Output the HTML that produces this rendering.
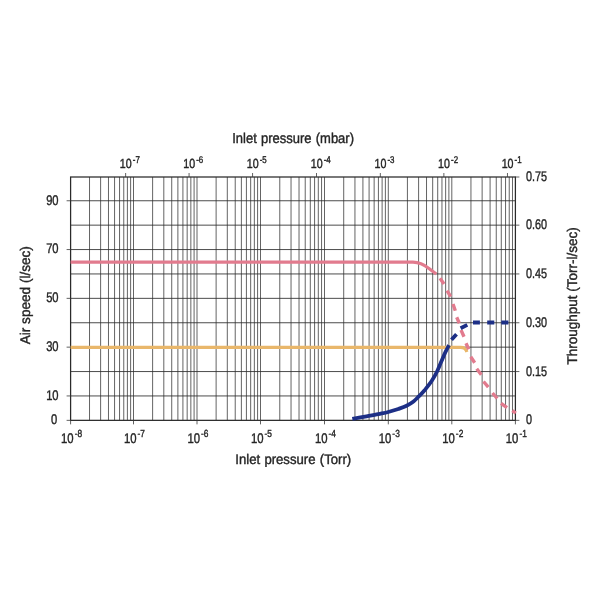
<!DOCTYPE html><html><head><meta charset="utf-8"><title>Pumping speed chart</title><style>html,body{margin:0;padding:0;background:#fff}svg{display:block}</style></head><body><svg width="600" height="600" viewBox="0 0 600 600">
<rect width="600" height="600" fill="#fff"/>
<path d="M89.53 177.0V420.35M100.61 177.0V420.35M108.47 177.0V420.35M114.57 177.0V420.35M119.55 177.0V420.35M123.76 177.0V420.35M127.40 177.0V420.35M130.62 177.0V420.35M152.62 177.0V420.35M163.80 177.0V420.35M171.73 177.0V420.35M177.88 177.0V420.35M182.91 177.0V420.35M187.16 177.0V420.35M190.85 177.0V420.35M194.09 177.0V420.35M133.50 177.0V420.35M216.12 177.0V420.35M227.30 177.0V420.35M235.23 177.0V420.35M241.38 177.0V420.35M246.41 177.0V420.35M250.66 177.0V420.35M254.35 177.0V420.35M257.59 177.0V420.35M197.00 177.0V420.35M279.77 177.0V420.35M291.04 177.0V420.35M299.03 177.0V420.35M305.23 177.0V420.35M310.30 177.0V420.35M314.59 177.0V420.35M318.30 177.0V420.35M321.57 177.0V420.35M260.50 177.0V420.35M343.71 177.0V420.35M354.94 177.0V420.35M362.91 177.0V420.35M369.09 177.0V420.35M374.15 177.0V420.35M378.42 177.0V420.35M382.12 177.0V420.35M385.38 177.0V420.35M324.50 177.0V420.35M407.42 177.0V420.35M418.60 177.0V420.35M426.53 177.0V420.35M432.68 177.0V420.35M437.71 177.0V420.35M441.96 177.0V420.35M445.65 177.0V420.35M448.89 177.0V420.35M388.30 177.0V420.35M470.95 177.0V420.35M482.14 177.0V420.35M490.09 177.0V420.35M496.25 177.0V420.35M501.29 177.0V420.35M505.55 177.0V420.35M509.24 177.0V420.35M512.49 177.0V420.35M451.80 177.0V420.35" stroke="#303030" stroke-width="0.75" fill="none"/>
<path d="M70.6 395.95H515.4M70.6 371.55H515.4M70.6 347.15H515.4M70.6 322.75H515.4M70.6 298.35H515.4M70.6 273.95H515.4M70.6 249.55H515.4M70.6 225.15H515.4M70.6 200.75H515.4" stroke="#2c2c2c" stroke-width="0.85" fill="none"/>
<rect x="70.6" y="177.0" width="444.79999999999995" height="243.35000000000002" fill="none" stroke="#2a2a2a" stroke-width="1.25"/>
<path d="M66.6 420.35H70.6M66.6 395.95H70.6M66.6 347.15H70.6M66.6 298.35H70.6M66.6 249.55H70.6M66.6 200.75H70.6M515.4 420.35H519.4M515.4 371.55H519.4M515.4 322.75H519.4M515.4 273.95H519.4M515.4 225.15H519.4M515.4 177.00H519.4M70.6 420.35V424.35M133.5 420.35V424.35M197.0 420.35V424.35M260.5 420.35V424.35M324.5 420.35V424.35M388.3 420.35V424.35M451.8 420.35V424.35M515.4 420.35V424.35M125.64 177.0V173.0M189.07 177.0V173.0M252.57 177.0V173.0M316.51 177.0V173.0M380.33 177.0V173.0M443.87 177.0V173.0M507.46 177.0V173.0" stroke="#3a3a3a" stroke-width="0.8" fill="none"/>
<path d="M70.6 347.4H460.5C464 347.4 466 348.6 466.9 352" stroke="#e9b76b" stroke-width="3.1" fill="none"/>
<path d="M70.6 262.2H413C419 262.2 424 264.6 429.3 268.7L436.3 274" stroke="#e27b8e" stroke-width="3.2" fill="none"/>
<path d="M440 278.3L444 284M447 290.7L450.7 296.7M453 304L455.3 310.7M456.7 317.3L459.3 323.3M461 330L464 336.7M466 343.3L468.7 349.3M470.7 356.7L474.7 362.7M476.7 368.7L481.3 374.7M483.5 381.5L488.3 387.2M492.5 393L497.2 398.5M501 403.3L507 407.7M512.3 410.6L515.8 413.2" stroke="#e27b8e" stroke-width="3.4" fill="none"/>
<path d="M352.3 418.9C354.4 418.5 360.7 417.4 365 416.6C369.3 415.8 374.4 414.9 378.3 414.1C382.2 413.3 385.0 412.9 388.3 412.0C391.6 411.1 395.2 410.1 398.3 409.0C401.4 407.9 404.1 407.0 406.6 405.7C409.1 404.4 411.4 403.0 413.5 401.4C415.6 399.8 417.1 398.0 419.0 396.2C420.9 394.4 422.5 392.9 424.6 390.3C426.7 387.7 429.7 384.0 431.8 380.8C433.9 377.6 435.8 374.1 437.3 371.0C438.8 367.9 439.7 365.3 441.0 362.3C442.3 359.3 443.7 355.9 445 353.0C446.3 350.1 448.3 346.5 449.0 345.2" stroke="#1d2f86" stroke-width="3.8" fill="none"/>
<path d="M451.5 339.7L456.5 334.2M460.6 328.3L467.3 324.9M473.0 322.5L479.9 322.5M487.2 322.5L494.3 322.5M501.3 322.5L508.4 322.5" stroke="#1d2f86" stroke-width="3.8" fill="none"/>
<g font-family="'Liberation Sans', sans-serif" opacity="0.99" text-rendering="geometricPrecision" stroke="#232323" stroke-width="0.4">
<text transform="translate(57.2 424.25) scale(0.8 1)" text-anchor="end" font-size="14" fill="#232323" >0</text>
<text transform="translate(58.6 399.85) scale(0.8 1)" text-anchor="end" font-size="14" fill="#232323" >10</text>
<text transform="translate(58.6 351.05) scale(0.8 1)" text-anchor="end" font-size="14" fill="#232323" >30</text>
<text transform="translate(58.6 302.25) scale(0.8 1)" text-anchor="end" font-size="14" fill="#232323" >50</text>
<text transform="translate(58.6 253.45000000000002) scale(0.8 1)" text-anchor="end" font-size="14" fill="#232323" >70</text>
<text transform="translate(58.6 204.65000000000003) scale(0.8 1)" text-anchor="end" font-size="14" fill="#232323" >90</text>
<text transform="translate(526 424.45000000000005) scale(0.775 1)" text-anchor="start" font-size="14" fill="#232323" >0</text>
<text transform="translate(526 375.65000000000003) scale(0.775 1)" text-anchor="start" font-size="14" fill="#232323" >0.15</text>
<text transform="translate(526 326.85) scale(0.775 1)" text-anchor="start" font-size="14" fill="#232323" >0.30</text>
<text transform="translate(526 278.05000000000007) scale(0.775 1)" text-anchor="start" font-size="14" fill="#232323" >0.45</text>
<text transform="translate(526 229.25000000000003) scale(0.775 1)" text-anchor="start" font-size="14" fill="#232323" >0.60</text>
<text transform="translate(526 181.1) scale(0.775 1)" text-anchor="start" font-size="14" fill="#232323" >0.75</text>
<text transform="translate(61.00 442.6) scale(0.81 1)" text-anchor="start" font-size="14" fill="#232323">10<tspan font-size="10.3" dx="1.3" dy="-6">-8</tspan></text>
<text transform="translate(123.90 442.6) scale(0.81 1)" text-anchor="start" font-size="14" fill="#232323">10<tspan font-size="10.3" dx="1.3" dy="-6">-7</tspan></text>
<text transform="translate(187.40 442.6) scale(0.81 1)" text-anchor="start" font-size="14" fill="#232323">10<tspan font-size="10.3" dx="1.3" dy="-6">-6</tspan></text>
<text transform="translate(250.90 442.6) scale(0.81 1)" text-anchor="start" font-size="14" fill="#232323">10<tspan font-size="10.3" dx="1.3" dy="-6">-5</tspan></text>
<text transform="translate(314.90 442.6) scale(0.81 1)" text-anchor="start" font-size="14" fill="#232323">10<tspan font-size="10.3" dx="1.3" dy="-6">-4</tspan></text>
<text transform="translate(378.70 442.6) scale(0.81 1)" text-anchor="start" font-size="14" fill="#232323">10<tspan font-size="10.3" dx="1.3" dy="-6">-3</tspan></text>
<text transform="translate(442.20 442.6) scale(0.81 1)" text-anchor="start" font-size="14" fill="#232323">10<tspan font-size="10.3" dx="1.3" dy="-6">-2</tspan></text>
<text transform="translate(505.80 442.6) scale(0.81 1)" text-anchor="start" font-size="14" fill="#232323">10<tspan font-size="10.3" dx="1.3" dy="-6">-1</tspan></text>
<text transform="translate(119.84 168) scale(0.81 1)" text-anchor="start" font-size="13.2" fill="#232323">10<tspan font-size="9.8" dx="1.3" dy="-5">-7</tspan></text>
<text transform="translate(183.27 168) scale(0.81 1)" text-anchor="start" font-size="13.2" fill="#232323">10<tspan font-size="9.8" dx="1.3" dy="-5">-6</tspan></text>
<text transform="translate(246.77 168) scale(0.81 1)" text-anchor="start" font-size="13.2" fill="#232323">10<tspan font-size="9.8" dx="1.3" dy="-5">-5</tspan></text>
<text transform="translate(310.71 168) scale(0.81 1)" text-anchor="start" font-size="13.2" fill="#232323">10<tspan font-size="9.8" dx="1.3" dy="-5">-4</tspan></text>
<text transform="translate(374.53 168) scale(0.81 1)" text-anchor="start" font-size="13.2" fill="#232323">10<tspan font-size="9.8" dx="1.3" dy="-5">-3</tspan></text>
<text transform="translate(438.07 168) scale(0.81 1)" text-anchor="start" font-size="13.2" fill="#232323">10<tspan font-size="9.8" dx="1.3" dy="-5">-2</tspan></text>
<text transform="translate(501.66 168) scale(0.81 1)" text-anchor="start" font-size="13.2" fill="#232323">10<tspan font-size="9.8" dx="1.3" dy="-5">-1</tspan></text>
<text transform="translate(293.1 142.8) scale(0.902 1)" text-anchor="middle" font-size="14.4" fill="#232323" word-spacing="0.7">Inlet pressure (mbar)</text>
<text transform="translate(293.2 463.9) scale(0.938 1)" text-anchor="middle" font-size="14" fill="#232323" word-spacing="0.7">Inlet pressure (Torr)</text>
<text transform="translate(30.1 295.2) rotate(-90) scale(0.97 1)" text-anchor="middle" font-size="14" fill="#232323" >Air speed (l/sec)</text>
<text transform="translate(576.8 295.9) rotate(-90) scale(0.964 1)" text-anchor="middle" font-size="14" fill="#232323" >Throughput (Torr-l/sec)</text>
</g>
</svg></body></html>
